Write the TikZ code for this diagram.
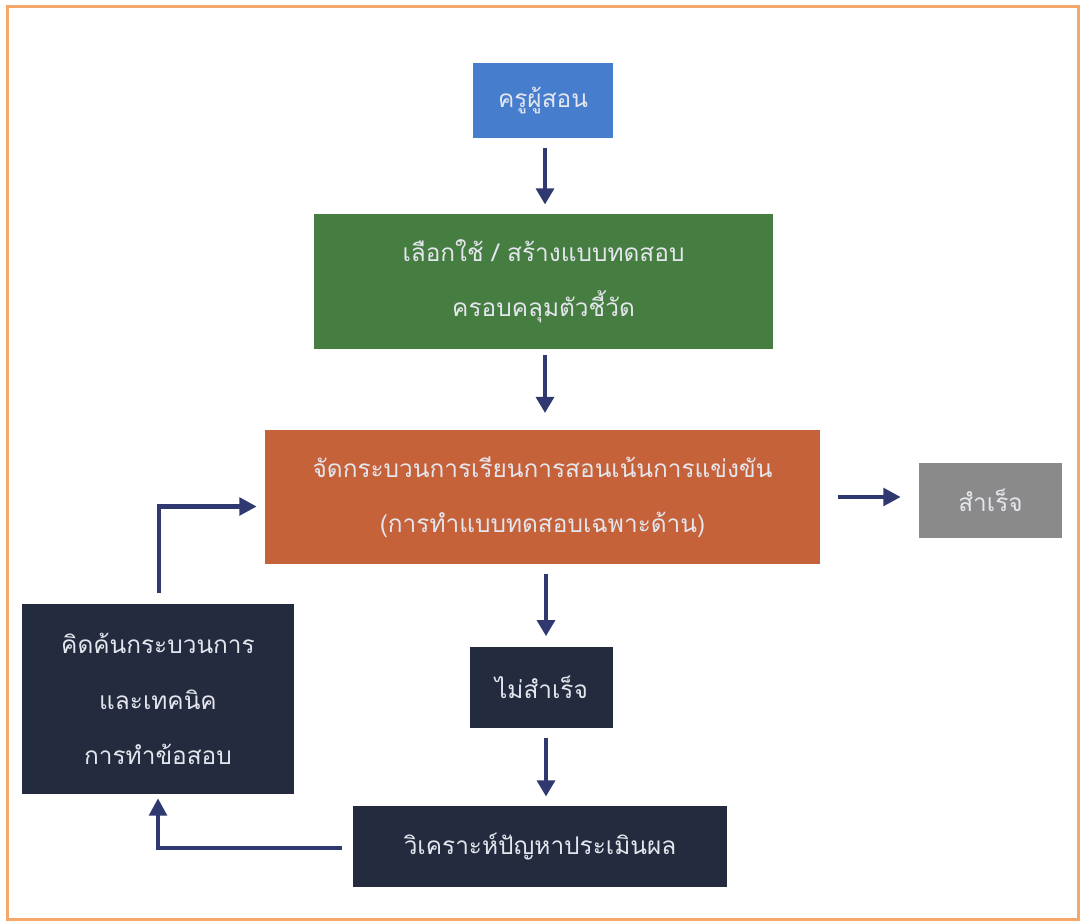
\documentclass[tikz,border=0pt]{standalone}
\usepackage{fontspec}
\newfontfamily\thaifont[Script=Thai]{Loma}
\usetikzlibrary{arrows.meta}
\definecolor{frameor}{RGB}{245,168,105}
\definecolor{boxblue}{RGB}{70,125,205}
\definecolor{boxgreen}{RGB}{70,125,65}
\definecolor{boxorange}{RGB}{198,98,58}
\definecolor{boxgray}{RGB}{138,138,138}
\definecolor{boxdark}{RGB}{36,43,62}
\definecolor{arrowblue}{RGB}{47,57,112}
\definecolor{txtlight}{RGB}{228,230,238}
\tikzset{
  box/.style={rectangle, inner sep=0pt, align=center, text=txtlight,
    font=\thaifont\fontsize{18.3}{41.5}\selectfont},
  thin arrow/.style={draw=arrowblue, line width=2.4pt,
    -{Triangle[length=12pt,width=13.5pt]}},
  thick arrow/.style={draw=arrowblue, line width=3.2pt,
    -{Triangle[length=13pt,width=13pt]}},
}
\begin{document}
\begin{tikzpicture}[x=0.75pt,y=-0.75pt]
\useasboundingbox (0,0) rectangle (1086,923);
\draw[frameor, line width=2.2pt] (7.5,6.5) rectangle (1078.5,919.5);

\node[box, fill=boxblue, minimum width=105pt, minimum height=56.25pt] (teacher) at (543,100.5) {ครูผู้สอน};
\node[box, fill=boxgreen, minimum width=344.25pt, minimum height=101.25pt] (select) at (543.5,281.5) {เลือกใช้ / สร้างแบบทดสอบ\\ครอบคลุมตัวชี้วัด};
\node[box, fill=boxorange, minimum width=416.25pt, minimum height=100.5pt] (teach) at (542.5,497.5) {จัดกระบวนการเรียนการสอนเน้นการแข่งขัน\\(การทำแบบทดสอบเฉพาะด้าน)};
\node[box, fill=boxgray, minimum width=107.25pt, minimum height=56.25pt] (success) at (990.5,500.5) {สำเร็จ};
\node[box, fill=boxdark, minimum width=107.25pt, minimum height=60.75pt] (fail) at (541.5,687.5) {ไม่สำเร็จ};
\node[box, fill=boxdark, minimum width=280.5pt, minimum height=60.75pt] (analyze) at (540,846.5) {วิเคราะห์ปัญหาประเมินผล};
\node[box, fill=boxdark, minimum width=204pt, minimum height=142.5pt] (research) at (158,699) {คิดค้นกระบวนการ\\และเทคนิค\\การทำข้อสอบ};

\coordinate (c1) at (159,506.5);
\coordinate (c2) at (158,848);

\draw[thin arrow, shorten <=7.5pt, shorten >=7pt] (teacher.south -| 545,0) -- (select.north -| 545,0);
\draw[thin arrow, shorten <=4.5pt, shorten >=13pt] (select.south -| 545,0) -- (teach.north -| 545,0);
\draw[thin arrow, shorten <=7pt, shorten >=8pt] (teach.south -| 546,0) -- (fail.north -| 546,0);
\draw[thin arrow, shorten <=7pt, shorten >=7pt] (fail.south -| 546,0) -- (analyze.north -| 546,0);
\draw[thick arrow, shorten <=13pt, shorten >=13.5pt] (teach.east |- 0,497) -- (success.west |- 0,497);
\draw[thick arrow, shorten <=8pt, shorten >=6pt] (research.north -| c1) -- (c1) -- (teach.west |- c1);
\draw[thick arrow, shorten <=8pt, shorten >=3pt] (analyze.west |- c2) -- (c2) -- (research.south -| c2);
\end{tikzpicture}
\end{document}
